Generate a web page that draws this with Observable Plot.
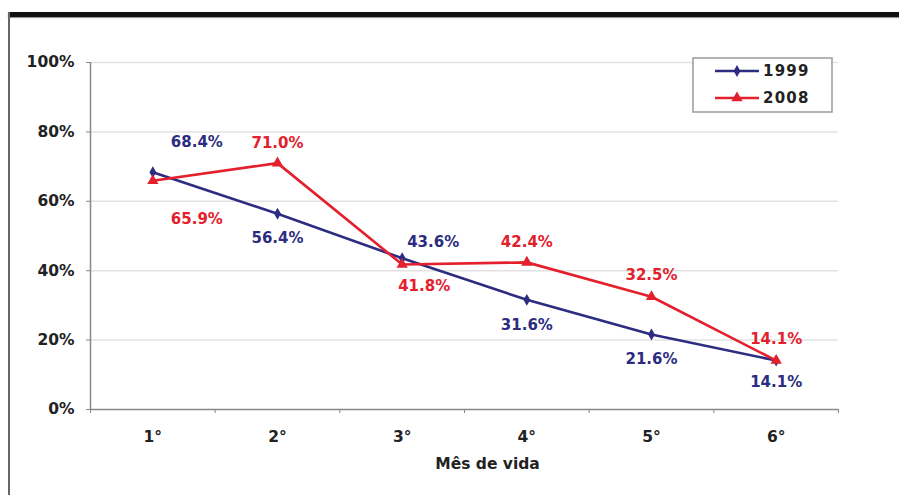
<!DOCTYPE html>
<html><head><meta charset="utf-8">
<script src="https://cdn.jsdelivr.net/npm/d3@7"></script>
<script src="https://cdn.jsdelivr.net/npm/@observablehq/plot@0.6"></script>
<style>
body{margin:0;background:#fff;}
#wrap{position:relative;width:899px;height:495px;overflow:hidden;background:#fff;}
#chart{position:absolute;left:0;top:0;}
#topbar{position:absolute;left:8px;top:12px;width:891px;height:5px;background:#111;box-shadow:0 1px 1px #999;}
#leftbar{position:absolute;left:8px;top:12px;width:2px;height:483px;background:#666;}
</style></head><body>
<div id="wrap"><div id="chart"></div><div id="topbar"></div><div id="leftbar"></div></div>
<script>
// ---- data ----
const months = ["1°","2°","3°","4°","5°","6°"];
const seriesNames = ["1999","2008"];
const values1999 = [0.684, 0.564, 0.436, 0.316, 0.216, 0.141];
const values2008 = [0.659, 0.710, 0.418, 0.424, 0.325, 0.141];
const yTicks = [0, 0.2, 0.4, 0.6, 0.8, 1.0];
const xTitle = "Mês de vida";

// ---- label placement (pixel offsets from each point) ----
const labelDx1999 = [44, 0, 31, 0, 0, 0];
const labelDy1999 = [-30, 24, -16, 25, 25, 22];
const labelDx2008 = [44, 0, 22, 0, 0, 0];
const labelDy2008 = [38, -20, 22, -20, -22, -21];

const colors = {"1999": "#2c2c80", "2008": "#e3202c"};
const FONT = "DejaVu Sans, Verdana, sans-serif";
const pct = v => (v * 100).toFixed(1) + "%";

const rows = [];
months.forEach((m, i) => {
  rows.push({month: i + 1, series: "1999", value: values1999[i], dx: labelDx1999[i], dy: labelDy1999[i]});
  rows.push({month: i + 1, series: "2008", value: values2008[i], dx: labelDx2008[i], dy: labelDy2008[i]});
});
const bounds = d3.range(0, months.length + 1).map(i => i + 0.5);
const centers = months.map((m, i) => i + 1);

const textStyle = {fontFamily: FONT, fontSize: 15.5, fontWeight: "bold", letterSpacing: "1.6px"};
const labelStyle = {fontFamily: FONT, fontSize: 15, fontWeight: "bold", letterSpacing: "1.8px"};

const labelMarks = rows.map(r => Plot.text([r], {
  x: "month", y: "value", text: d => pct(d.value),
  dx: r.dx, dy: r.dy, fill: colors[r.series], ...labelStyle
}));

const plot = Plot.plot({
  width: 899, height: 495,
  marginLeft: 90, marginRight: 61, marginTop: 62, marginBottom: 86,
  style: {background: "transparent", overflow: "visible"},
  x: {type: "linear", domain: [0.5, months.length + 0.5], axis: null},
  y: {domain: [0, 1], axis: null},
  marks: [
    Plot.gridY(yTicks.filter(d => d > 0), {stroke: "#e2e2e2", strokeOpacity: 1, strokeWidth: 1.5}),
    Plot.axisY(yTicks, {tickSize: 4, tickPadding: 12, stroke: "#888", fill: "#222", label: null,
      tickFormat: d => Math.round(d * 100) + "%", ...textStyle}),
    Plot.axisX(centers, {tickSize: 0, tickPadding: 21, fill: "#222", label: null,
      tickFormat: d => months[d - 1], ...textStyle}),
    Plot.axisX(bounds, {tickSize: 4, stroke: "#888", label: null, tickFormat: () => ""}),
    Plot.ruleX([0.5], {stroke: "#888", strokeWidth: 1.5}),
    Plot.ruleY([0], {stroke: "#888", strokeWidth: 1.5}),
    Plot.text([xTitle], {frameAnchor: "bottom", dy: 59, dx: 23, fill: "#222",
      fontFamily: FONT, fontSize: 15.5, fontWeight: "bold", letterSpacing: "1.2px"}),
    Plot.line(rows, {x: "month", y: "value", z: "series", stroke: d => colors[d.series], strokeWidth: 2.6}),
    Plot.dot(rows.filter(d => d.series === "1999"), {x: "month", y: "value", symbol: "diamond", r: 3.6, fill: colors["1999"]}),
    Plot.dot(rows.filter(d => d.series === "2008"), {x: "month", y: "value", symbol: "triangle", r: 4.2, fill: colors["2008"]}),
    ...labelMarks
  ]
});
document.getElementById("chart").appendChild(plot);

// ---- legend ----
const svg = d3.select(plot);
const lg = svg.append("g").attr("text-anchor", "start");
lg.append("rect").attr("x", 693).attr("y", 58).attr("width", 139).attr("height", 54)
  .attr("fill", "#fff").attr("stroke", "#9a9a9a").attr("stroke-width", 1.5);
const symbols = {"1999": d3.symbolDiamond, "2008": d3.symbolTriangle};
const symSize = {"1999": 40, "2008": 55};
seriesNames.forEach((s, i) => {
  const y = 71 + i * 27;
  lg.append("line").attr("x1", 715).attr("x2", 759).attr("y1", y).attr("y2", y)
    .attr("stroke", colors[s]).attr("stroke-width", 2.6);
  lg.append("path").attr("d", d3.symbol(symbols[s], symSize[s])())
    .attr("transform", `translate(737,${y})`).attr("fill", colors[s]);
  lg.append("text").attr("x", 763).attr("y", y).attr("dy", "0.36em").text(s)
    .attr("font-family", FONT).attr("font-size", 15).attr("font-weight", "bold")
    .attr("letter-spacing", "1.2px").attr("fill", "#222");
});
</script>
</body></html>
